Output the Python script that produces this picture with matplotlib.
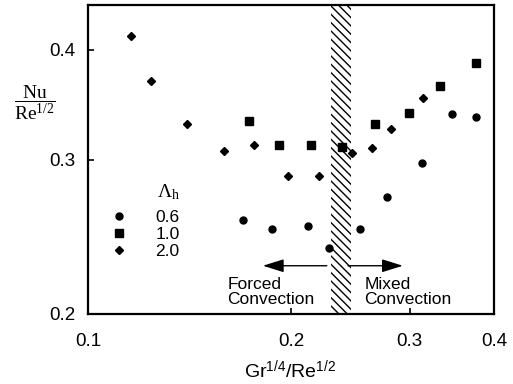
import matplotlib
matplotlib.use("Agg")
import matplotlib.pyplot as plt
from matplotlib.ticker import FixedLocator, FixedFormatter, NullLocator

plt.rcParams['font.family'] = ['Liberation Sans', 'DejaVu Sans']
plt.rcParams['mathtext.fontset'] = 'custom'
plt.rcParams['mathtext.rm'] = 'Liberation Serif'
plt.rcParams['mathtext.it'] = 'Liberation Serif:italic'
plt.rcParams['mathtext.sf'] = 'Liberation Sans'
plt.rcParams['hatch.linewidth'] = 1.0

# ---- data ----
x_06 = [0.170, 0.1875, 0.212, 0.228, 0.253, 0.278, 0.313, 0.346, 0.376]
y_06 = [0.256, 0.250, 0.252, 0.238, 0.250, 0.272, 0.297, 0.338, 0.335]

x_10 = [0.173, 0.192, 0.214, 0.238, 0.266, 0.299, 0.333, 0.376]
y_10 = [0.332, 0.312, 0.312, 0.310, 0.329, 0.339, 0.364, 0.386]

x_20 = [0.1158, 0.124, 0.140, 0.159, 0.176, 0.198, 0.220, 0.246, 0.264, 0.281, 0.314]
y_20 = [0.415, 0.369, 0.329, 0.307, 0.312, 0.287, 0.287, 0.305, 0.309, 0.325, 0.353]

legend_labels = ['0.6', '1.0', '2.0']
legend_title = r'$\mathit{\Lambda}_{\mathrm{h}}$'

band = (0.229, 0.2455)          # transition band
arrow_y = 0.227
left_arrow = (0.226, 0.1817)
right_arrow = (0.243, 0.293)

xticks = [0.1, 0.2, 0.3, 0.4]
xtick_labels = ['0.1', '0.2', '0.3', '0.4']
yticks = [0.2, 0.3, 0.4]
ytick_labels = ['0.2', '0.3', '0.4']

# ---- figure ----
fig = plt.figure(figsize=(5.13, 3.84), dpi=100)
ax = fig.add_axes([88/513, 1-314/384, (494-88)/513, (314-5)/384])
ax.set_xscale('log')
ax.set_yscale('log')
ax.set_xlim(0.1, 0.4)
ax.set_ylim(0.2, 0.45)

ax.axvspan(band[0], band[1], facecolor='white', edgecolor='black',
           hatch='\\\\\\\\', linewidth=0, zorder=1)

h1, = ax.plot(x_06, y_06, 'o', color='black', ms=5.0, zorder=3)
h2, = ax.plot(x_10, y_10, 's', color='black', ms=5.4, zorder=3)
h3, = ax.plot(x_20, y_20, 'D', color='black', ms=3.8, zorder=3)

astyle = '-|>,head_length=0.8,head_width=0.25'
ax.annotate('', xy=(left_arrow[1], arrow_y), xytext=(left_arrow[0], arrow_y),
            arrowprops=dict(arrowstyle=astyle, color='black', lw=1.0,
                            mutation_scale=16, shrinkA=0, shrinkB=0))
ax.annotate('', xy=(right_arrow[1], arrow_y), xytext=(right_arrow[0], arrow_y),
            arrowprops=dict(arrowstyle=astyle, color='black', lw=1.0,
                            mutation_scale=16, shrinkA=0, shrinkB=0))

ax.text(0.161, 0.2205, 'Forced\nConvection', ha='left', va='top',
        fontsize=12.5, linespacing=1.05)
ax.text(0.257, 0.2205, 'Mixed\nConvection', ha='left', va='top',
        fontsize=12.5, linespacing=1.05)

leg = ax.legend([h1, h2, h3], legend_labels, title=legend_title,
                loc='upper left', bbox_to_anchor=(0.055, 0.427),
                frameon=False, fontsize=12.5, title_fontsize=14,
                handletextpad=1.6, labelspacing=0.1, handlelength=1.0,
                borderaxespad=0, borderpad=0, alignment='right')
leg._legend_box.sep = 6

ax.xaxis.set_major_locator(FixedLocator(xticks))
ax.xaxis.set_major_formatter(FixedFormatter(xtick_labels))
ax.xaxis.set_minor_locator(NullLocator())
ax.yaxis.set_major_locator(FixedLocator(yticks))
ax.yaxis.set_major_formatter(FixedFormatter(ytick_labels))
ax.yaxis.set_minor_locator(NullLocator())
ax.tick_params(which='major', direction='in', length=4, width=1.2,
               labelsize=13.5, top=False, right=False)
ax.tick_params(axis='x', pad=14)
ax.tick_params(axis='y', pad=9)
for s in ax.spines.values():
    s.set_linewidth(1.6)

ax.set_xlabel(r'Gr$^{\mathsf{1/4}}$/Re$^{\mathsf{1/2}}$', fontsize=14, va='center')
ax.xaxis.set_label_coords((290-88)/406, -(370-314)/309)
ax.set_ylabel(r'$\dfrac{\mathrm{Nu}}{\mathrm{Re}^{1/2}}$', fontsize=14,
              rotation=0, va='center', ha='center')
ax.yaxis.set_label_coords(-(88-35)/406, (314-103)/309)

fig.savefig('out.png', dpi=100)
